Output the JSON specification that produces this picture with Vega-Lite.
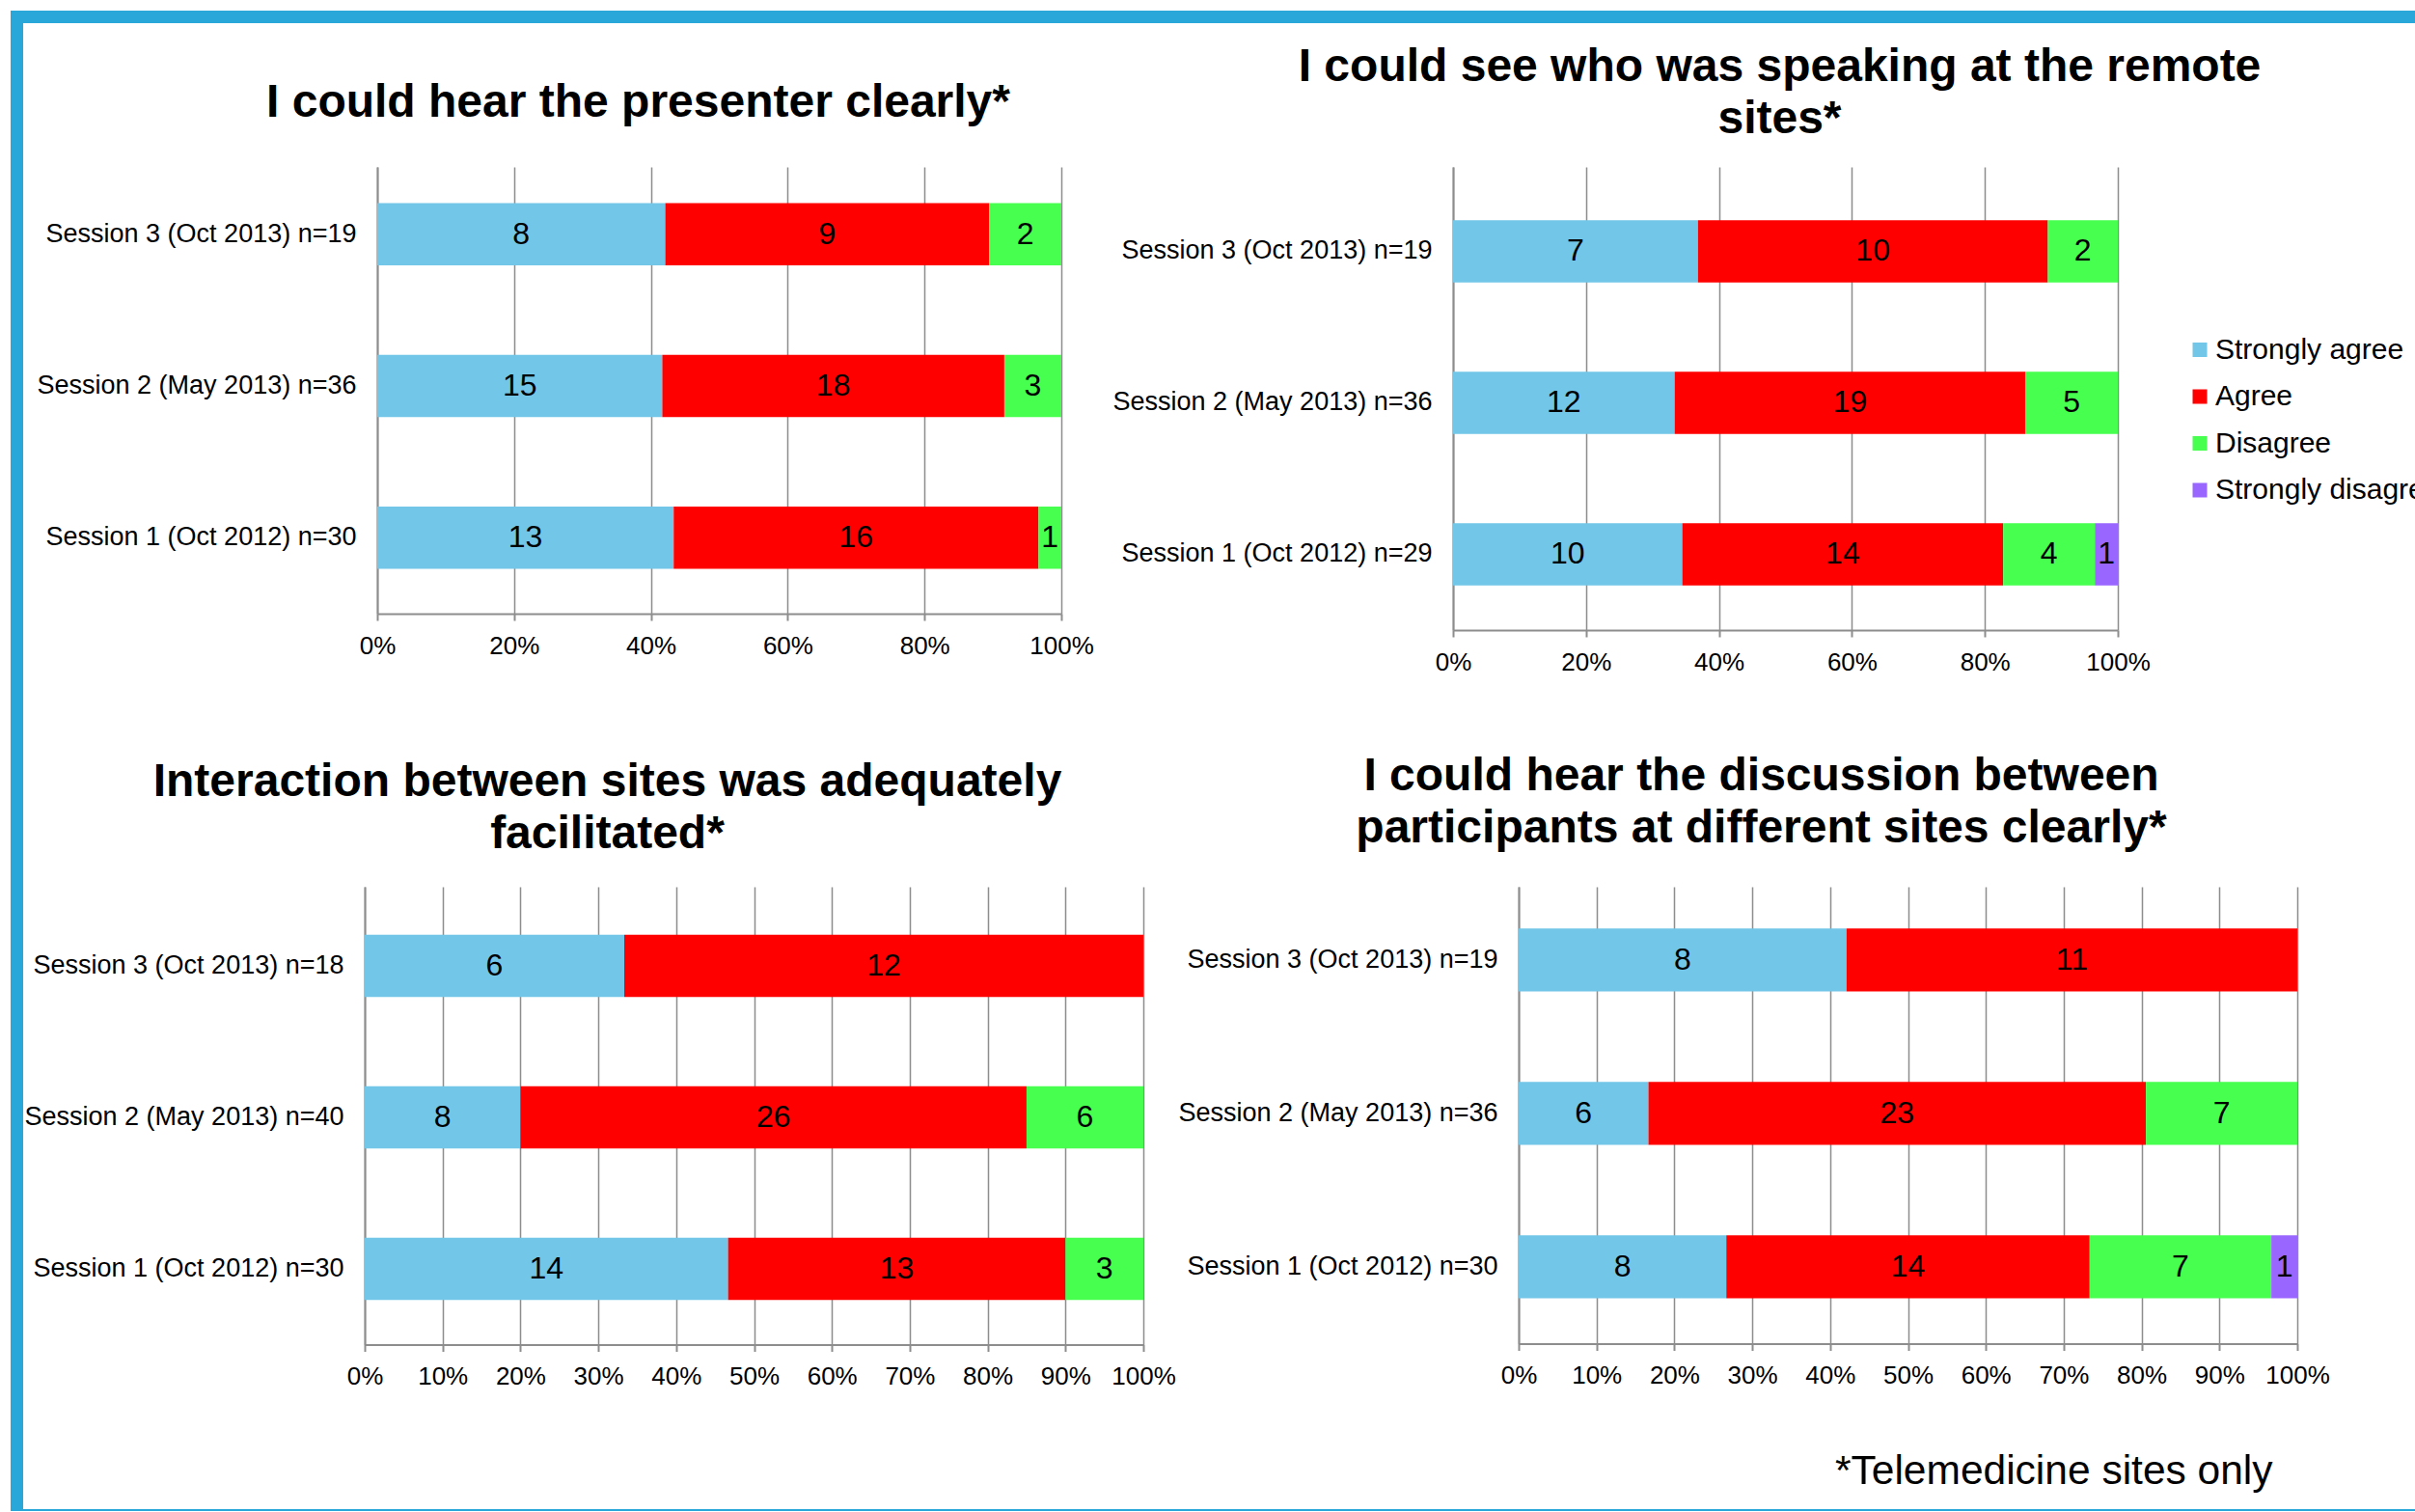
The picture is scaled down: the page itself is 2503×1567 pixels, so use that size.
{
  "$schema": "https://vega.github.io/schema/vega-lite/v6.json",
  "background": "white",
  "padding": {"left": 11, "top": 11, "right": 0, "bottom": 0},
  "config": {
    "font": "Liberation Sans",
    "view": {"stroke": null},
    "axis": {"labelColor": "black", "labelFont": "Liberation Sans", "domainColor": "#8D8D8D", "domainWidth": 2, "tickColor": "#8D8D8D", "tickWidth": 2, "gridColor": "#8D8D8D", "gridWidth": 1.5, "title": null},
    "axisX": {"grid": true, "tickSize": 7, "labelPadding": 13, "labelFontSize": 26, "labelFlush": false, "labelOverlap": false, "format": "%"},
    "axisY": {"grid": false, "ticks": false, "labelPadding": 22, "labelFontSize": 27, "labelLimit": 400},
    "title": {"font": "Liberation Sans", "fontSize": 48, "fontWeight": "bold", "color": "black", "anchor": "middle", "frame": "group"},
    "legend": {"labelFont": "Liberation Sans", "labelColor": "black"},
    "text": {"font": "Liberation Sans", "fontSize": 32, "color": "black"}
  },
  "datasets": {
    "q1": [
      {"session": "Session 3 (Oct 2013) n=19", "response": "Strongly agree", "level": 1, "count": 8},
      {"session": "Session 3 (Oct 2013) n=19", "response": "Agree", "level": 2, "count": 9},
      {"session": "Session 3 (Oct 2013) n=19", "response": "Disagree", "level": 3, "count": 2},
      {"session": "Session 2 (May 2013) n=36", "response": "Strongly agree", "level": 1, "count": 15},
      {"session": "Session 2 (May 2013) n=36", "response": "Agree", "level": 2, "count": 18},
      {"session": "Session 2 (May 2013) n=36", "response": "Disagree", "level": 3, "count": 3},
      {"session": "Session 1 (Oct 2012) n=30", "response": "Strongly agree", "level": 1, "count": 13},
      {"session": "Session 1 (Oct 2012) n=30", "response": "Agree", "level": 2, "count": 16},
      {"session": "Session 1 (Oct 2012) n=30", "response": "Disagree", "level": 3, "count": 1}
    ],
    "q2": [
      {"session": "Session 3 (Oct 2013) n=19", "response": "Strongly agree", "level": 1, "count": 7},
      {"session": "Session 3 (Oct 2013) n=19", "response": "Agree", "level": 2, "count": 10},
      {"session": "Session 3 (Oct 2013) n=19", "response": "Disagree", "level": 3, "count": 2},
      {"session": "Session 2 (May 2013) n=36", "response": "Strongly agree", "level": 1, "count": 12},
      {"session": "Session 2 (May 2013) n=36", "response": "Agree", "level": 2, "count": 19},
      {"session": "Session 2 (May 2013) n=36", "response": "Disagree", "level": 3, "count": 5},
      {"session": "Session 1 (Oct 2012) n=29", "response": "Strongly agree", "level": 1, "count": 10},
      {"session": "Session 1 (Oct 2012) n=29", "response": "Agree", "level": 2, "count": 14},
      {"session": "Session 1 (Oct 2012) n=29", "response": "Disagree", "level": 3, "count": 4},
      {"session": "Session 1 (Oct 2012) n=29", "response": "Strongly disagree", "level": 4, "count": 1}
    ],
    "q3": [
      {"session": "Session 3 (Oct 2013) n=18", "response": "Strongly agree", "level": 1, "count": 6},
      {"session": "Session 3 (Oct 2013) n=18", "response": "Agree", "level": 2, "count": 12},
      {"session": "Session 2 (May 2013) n=40", "response": "Strongly agree", "level": 1, "count": 8},
      {"session": "Session 2 (May 2013) n=40", "response": "Agree", "level": 2, "count": 26},
      {"session": "Session 2 (May 2013) n=40", "response": "Disagree", "level": 3, "count": 6},
      {"session": "Session 1 (Oct 2012) n=30", "response": "Strongly agree", "level": 1, "count": 14},
      {"session": "Session 1 (Oct 2012) n=30", "response": "Agree", "level": 2, "count": 13},
      {"session": "Session 1 (Oct 2012) n=30", "response": "Disagree", "level": 3, "count": 3}
    ],
    "q4": [
      {"session": "Session 3 (Oct 2013) n=19", "response": "Strongly agree", "level": 1, "count": 8},
      {"session": "Session 3 (Oct 2013) n=19", "response": "Agree", "level": 2, "count": 11},
      {"session": "Session 2 (May 2013) n=36", "response": "Strongly agree", "level": 1, "count": 6},
      {"session": "Session 2 (May 2013) n=36", "response": "Agree", "level": 2, "count": 23},
      {"session": "Session 2 (May 2013) n=36", "response": "Disagree", "level": 3, "count": 7},
      {"session": "Session 1 (Oct 2012) n=30", "response": "Strongly agree", "level": 1, "count": 8},
      {"session": "Session 1 (Oct 2012) n=30", "response": "Agree", "level": 2, "count": 14},
      {"session": "Session 1 (Oct 2012) n=30", "response": "Disagree", "level": 3, "count": 7},
      {"session": "Session 1 (Oct 2012) n=30", "response": "Strongly disagree", "level": 4, "count": 1}
    ]
  },
  "spacing": 0,
  "align": "none",
  "resolve": {"scale": {"color": "independent"}, "legend": {"color": "independent"}},
  "vconcat": [
    {
      "spacing": 0,
      "align": "none",
      "resolve": {"scale": {"color": "independent"}, "legend": {"color": "independent"}},
      "hconcat": [
        {
          "width": 13, "height": 1553,
          "data": {"values": []},
          "mark": "point",
          "encoding": {},
          "view": {"fill": "#28A7D8", "stroke": null}
        },
        {
          "spacing": 22,
          "align": "none",
          "resolve": {"scale": {"color": "independent"}, "legend": {"color": "independent"}},
          "vconcat": [
            {
              "width": 2479, "height": 13,
              "data": {"values": []},
              "mark": "point",
              "encoding": {},
              "view": {"fill": "#28A7D8", "stroke": null}
            },
            {
              "spacing": 81,
              "align": "none",
              "title": {"text": "*Telemedicine sites only", "orient": "bottom", "anchor": "start", "frame": "bounds", "dx": 1878, "offset": 64, "fontSize": 42.5, "fontWeight": "normal"},
              "resolve": {"scale": {"color": "independent"}, "legend": {"color": "independent"}},
              "vconcat": [
                {
                  "spacing": 0,
                  "align": "none",
                  "resolve": {"scale": {"color": "independent"}, "legend": {"color": "independent"}},
                  "hconcat": [
                    {"width": 1, "height": 1, "data": {"values": []}, "mark": "point", "encoding": {}},
                    {
                      "spacing": 18,
                      "align": "none",
                      "resolve": {"scale": {"color": "independent"}, "legend": {"color": "independent"}},
                      "hconcat": [
                        {
                          "width": 709, "height": 463,
                          "title": {"text": "I could hear the presenter clearly*", "offset": 42, "dx": -84},
                          "data": {"name": "q1"},
                          "encoding": {
                            "y": {"field": "session", "type": "nominal", "sort": "descending", "scale": {"paddingInner": 0.59, "paddingOuter": 0.2665, "align": 0.446}, "axis": {"minExtent": 366, "maxExtent": 366}}
                          },
                          "layer": [
                            {
                              "mark": "bar",
                              "encoding": {
                                "x": {"field": "count", "type": "quantitative", "stack": "normalize", "axis": {"values": [0, 0.2, 0.4, 0.6, 0.8, 1]}},
                                "color": {"field": "response", "type": "nominal", "scale": {"domain": ["Strongly agree", "Agree", "Disagree", "Strongly disagree"], "range": ["#72C6E7", "#FF0000", "#46FF4E", "#9966FF"]}, "legend": null},
                                "order": {"field": "level", "type": "quantitative"}
                              }
                            },
                            {
                              "mark": {"type": "text"},
                              "encoding": {
                                "x": {"field": "count", "type": "quantitative", "stack": "normalize", "bandPosition": 0.5, "axis": {"values": [0, 0.2, 0.4, 0.6, 0.8, 1]}},
                                "text": {"field": "count", "type": "quantitative"},
                                "detail": {"field": "response", "type": "nominal"},
                                "order": {"field": "level", "type": "quantitative"}
                              }
                            }
                          ]
                        },
                        {
                          "width": 689, "height": 480,
                          "title": {"text": ["I could see who was speaking at the remote", "sites*"], "lineHeight": 54, "offset": 25, "dx": -6},
                          "data": {"name": "q2"},
                          "encoding": {
                            "y": {"field": "session", "type": "nominal", "sort": "descending", "scale": {"paddingInner": 0.59, "paddingOuter": 0.3236, "align": 0.544}, "axis": {"minExtent": 354, "maxExtent": 354}}
                          },
                          "layer": [
                            {
                              "mark": "bar",
                              "encoding": {
                                "x": {"field": "count", "type": "quantitative", "stack": "normalize", "axis": {"values": [0, 0.2, 0.4, 0.6, 0.8, 1]}},
                                "color": {"field": "response", "type": "nominal", "scale": {"domain": ["Strongly agree", "Agree", "Disagree", "Strongly disagree"], "range": ["#72C6E7", "#FF0000", "#46FF4E", "#9966FF"]}, "legend": {"orient": "none", "legendX": 759, "legendY": 174.5, "title": null, "symbolType": "square", "symbolSize": 225, "symbolStrokeWidth": 0, "labelFontSize": 30, "labelLimit": 0, "labelOffset": 1, "rowPadding": 18.5, "padding": 0}},
                                "order": {"field": "level", "type": "quantitative"}
                              }
                            },
                            {
                              "mark": {"type": "text"},
                              "encoding": {
                                "x": {"field": "count", "type": "quantitative", "stack": "normalize", "bandPosition": 0.5, "axis": {"values": [0, 0.2, 0.4, 0.6, 0.8, 1]}},
                                "text": {"field": "count", "type": "quantitative"},
                                "detail": {"field": "response", "type": "nominal"},
                                "order": {"field": "level", "type": "quantitative"}
                              }
                            }
                          ]
                        }
                      ]
                    }
                  ]
                },
                {
                  "spacing": 0,
                  "align": "none",
                  "resolve": {"scale": {"color": "independent"}, "legend": {"color": "independent"}},
                  "hconcat": [
                    {"width": 1, "height": 1, "data": {"values": []}, "mark": "point", "encoding": {}},
                    {
                      "spacing": 1,
                      "align": "none",
                      "resolve": {"scale": {"color": "independent"}, "legend": {"color": "independent"}},
                      "hconcat": [
                        {
                          "width": 807, "height": 474.5,
                          "title": {"text": ["Interaction between sites was adequately", "facilitated*"], "lineHeight": 54, "offset": 30, "dx": -152},
                          "data": {"name": "q3"},
                          "encoding": {
                            "y": {"field": "session", "type": "nominal", "sort": "descending", "scale": {"paddingInner": 0.59, "paddingOuter": 0.306, "align": 0.518}, "axis": {"minExtent": 353, "maxExtent": 353}}
                          },
                          "layer": [
                            {
                              "mark": "bar",
                              "encoding": {
                                "x": {"field": "count", "type": "quantitative", "stack": "normalize", "axis": {"values": [0, 0.1, 0.2, 0.3, 0.4, 0.5, 0.6, 0.7, 0.8, 0.9, 1]}},
                                "color": {"field": "response", "type": "nominal", "scale": {"domain": ["Strongly agree", "Agree", "Disagree", "Strongly disagree"], "range": ["#72C6E7", "#FF0000", "#46FF4E", "#9966FF"]}, "legend": null},
                                "order": {"field": "level", "type": "quantitative"}
                              }
                            },
                            {
                              "mark": {"type": "text"},
                              "encoding": {
                                "x": {"field": "count", "type": "quantitative", "stack": "normalize", "bandPosition": 0.5, "axis": {"values": [0, 0.1, 0.2, 0.3, 0.4, 0.5, 0.6, 0.7, 0.8, 0.9, 1]}},
                                "text": {"field": "count", "type": "quantitative"},
                                "detail": {"field": "response", "type": "nominal"},
                                "order": {"field": "level", "type": "quantitative"}
                              }
                            }
                          ]
                        },
                        {
                          "width": 807, "height": 473.5,
                          "title": {"text": ["I could hear the discussion between", "participants at different sites clearly*"], "lineHeight": 54, "offset": 36.5, "dx": -152},
                          "data": {"name": "q4"},
                          "encoding": {
                            "y": {"field": "session", "type": "nominal", "sort": "descending", "scale": {"paddingInner": 0.59, "paddingOuter": 0.284, "align": 0.48}, "axis": {"minExtent": 354, "maxExtent": 354}}
                          },
                          "layer": [
                            {
                              "mark": "bar",
                              "encoding": {
                                "x": {"field": "count", "type": "quantitative", "stack": "normalize", "axis": {"values": [0, 0.1, 0.2, 0.3, 0.4, 0.5, 0.6, 0.7, 0.8, 0.9, 1]}},
                                "color": {"field": "response", "type": "nominal", "scale": {"domain": ["Strongly agree", "Agree", "Disagree", "Strongly disagree"], "range": ["#72C6E7", "#FF0000", "#46FF4E", "#9966FF"]}, "legend": null},
                                "order": {"field": "level", "type": "quantitative"}
                              }
                            },
                            {
                              "mark": {"type": "text"},
                              "encoding": {
                                "x": {"field": "count", "type": "quantitative", "stack": "normalize", "bandPosition": 0.5, "axis": {"values": [0, 0.1, 0.2, 0.3, 0.4, 0.5, 0.6, 0.7, 0.8, 0.9, 1]}},
                                "text": {"field": "count", "type": "quantitative"},
                                "detail": {"field": "response", "type": "nominal"},
                                "order": {"field": "level", "type": "quantitative"}
                              }
                            }
                          ]
                        }
                      ]
                    }
                  ]
                }
              ]
            }
          ]
        }
      ]
    },
    {
      "width": 2492, "height": 2,
      "data": {"values": []},
      "mark": "point",
      "encoding": {},
      "view": {"fill": "#28A7D8", "stroke": null}
    }
  ]
}
